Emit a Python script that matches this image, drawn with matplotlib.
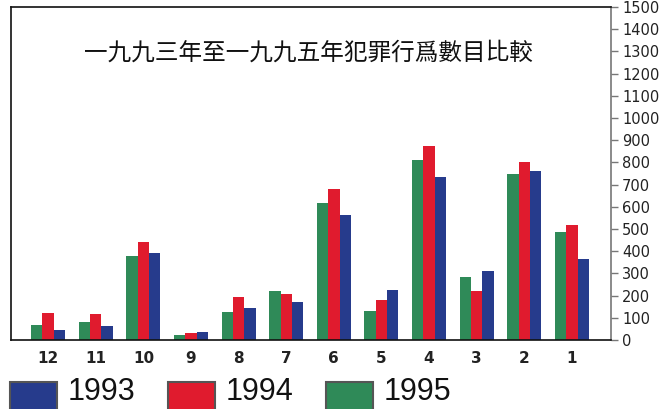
import matplotlib
matplotlib.use('Agg')
import matplotlib.pyplot as plt
from matplotlib.patches import Rectangle
import numpy as np

# months shown right-to-left order as in the original
months = ['12', '11', '10', '9', '8', '7', '6', '5', '4', '3', '2', '1']
v1995 = [68, 82, 380, 22, 125, 222, 617, 131, 811, 282, 748, 485]
v1994 = [120, 117, 443, 30, 195, 207, 680, 180, 875, 222, 803, 518]
v1993 = [45, 64, 390, 38, 146, 171, 563, 225, 733, 312, 763, 363]
years = ['1993', '1994', '1995']
title = '一九九三年至一九九五年犯罪行爲數目比較'

c_blue = '#263b8c'
c_red = '#e01b2e'
c_green = '#2f8a58'

W, H = 664, 409
fig = plt.figure(figsize=(W / 100, H / 100), dpi=100)
ax = fig.add_axes([11 / W, (H - 340) / H, 600 / W, 333 / H])

x = np.arange(len(months))
w = 0.238
ax.bar(x - w, v1995, w, color=c_green)
ax.bar(x, v1994, w, color=c_red)
ax.bar(x + w, v1993, w, color=c_blue)

ax.set_xlim(-0.78, 11.82)
ax.set_ylim(0, 1500)

ax.yaxis.tick_right()
ax.set_yticks(range(0, 1501, 100))
ax.tick_params(axis='y', direction='out', length=5, width=1, color='#777777',
               labelsize=10.5, pad=3, labelcolor='#222222')
ax.set_xticks(x)
ax.set_xticklabels(months, fontsize=11, fontweight='semibold', color='#222222')
ax.tick_params(axis='x', length=0, pad=8)

for s in ['left', 'top', 'bottom']:
    ax.spines[s].set_color('#111111')
    ax.spines[s].set_linewidth(1.2)
ax.spines['right'].set_color('#777777')
ax.spines['right'].set_linewidth(1.2)

ax.text(0.495, 0.86, title, transform=ax.transAxes, ha='center', va='center',
        fontsize=17, family=['Noto Sans CJK TC', 'DejaVu Sans'], color='#111111')

# legend row along the bottom edge
leg_colors = [c_blue, c_red, c_green]
box_x = [10, 168, 326]
txt_x = [68, 226, 384]
for yr, col, bx, tx in zip(years, leg_colors, box_x, txt_x):
    fig.patches.append(Rectangle((bx / W, -0.02), 47 / W, (H - 382) / H + 0.02,
                                 transform=fig.transFigure, facecolor=col,
                                 edgecolor='#555555', linewidth=1.5))
    fig.text(tx / W, 2 / H, yr, ha='left', va='bottom', fontsize=22,
             family='Liberation Sans', color='#111111')

fig.savefig('out.png', dpi=100, facecolor='white')
